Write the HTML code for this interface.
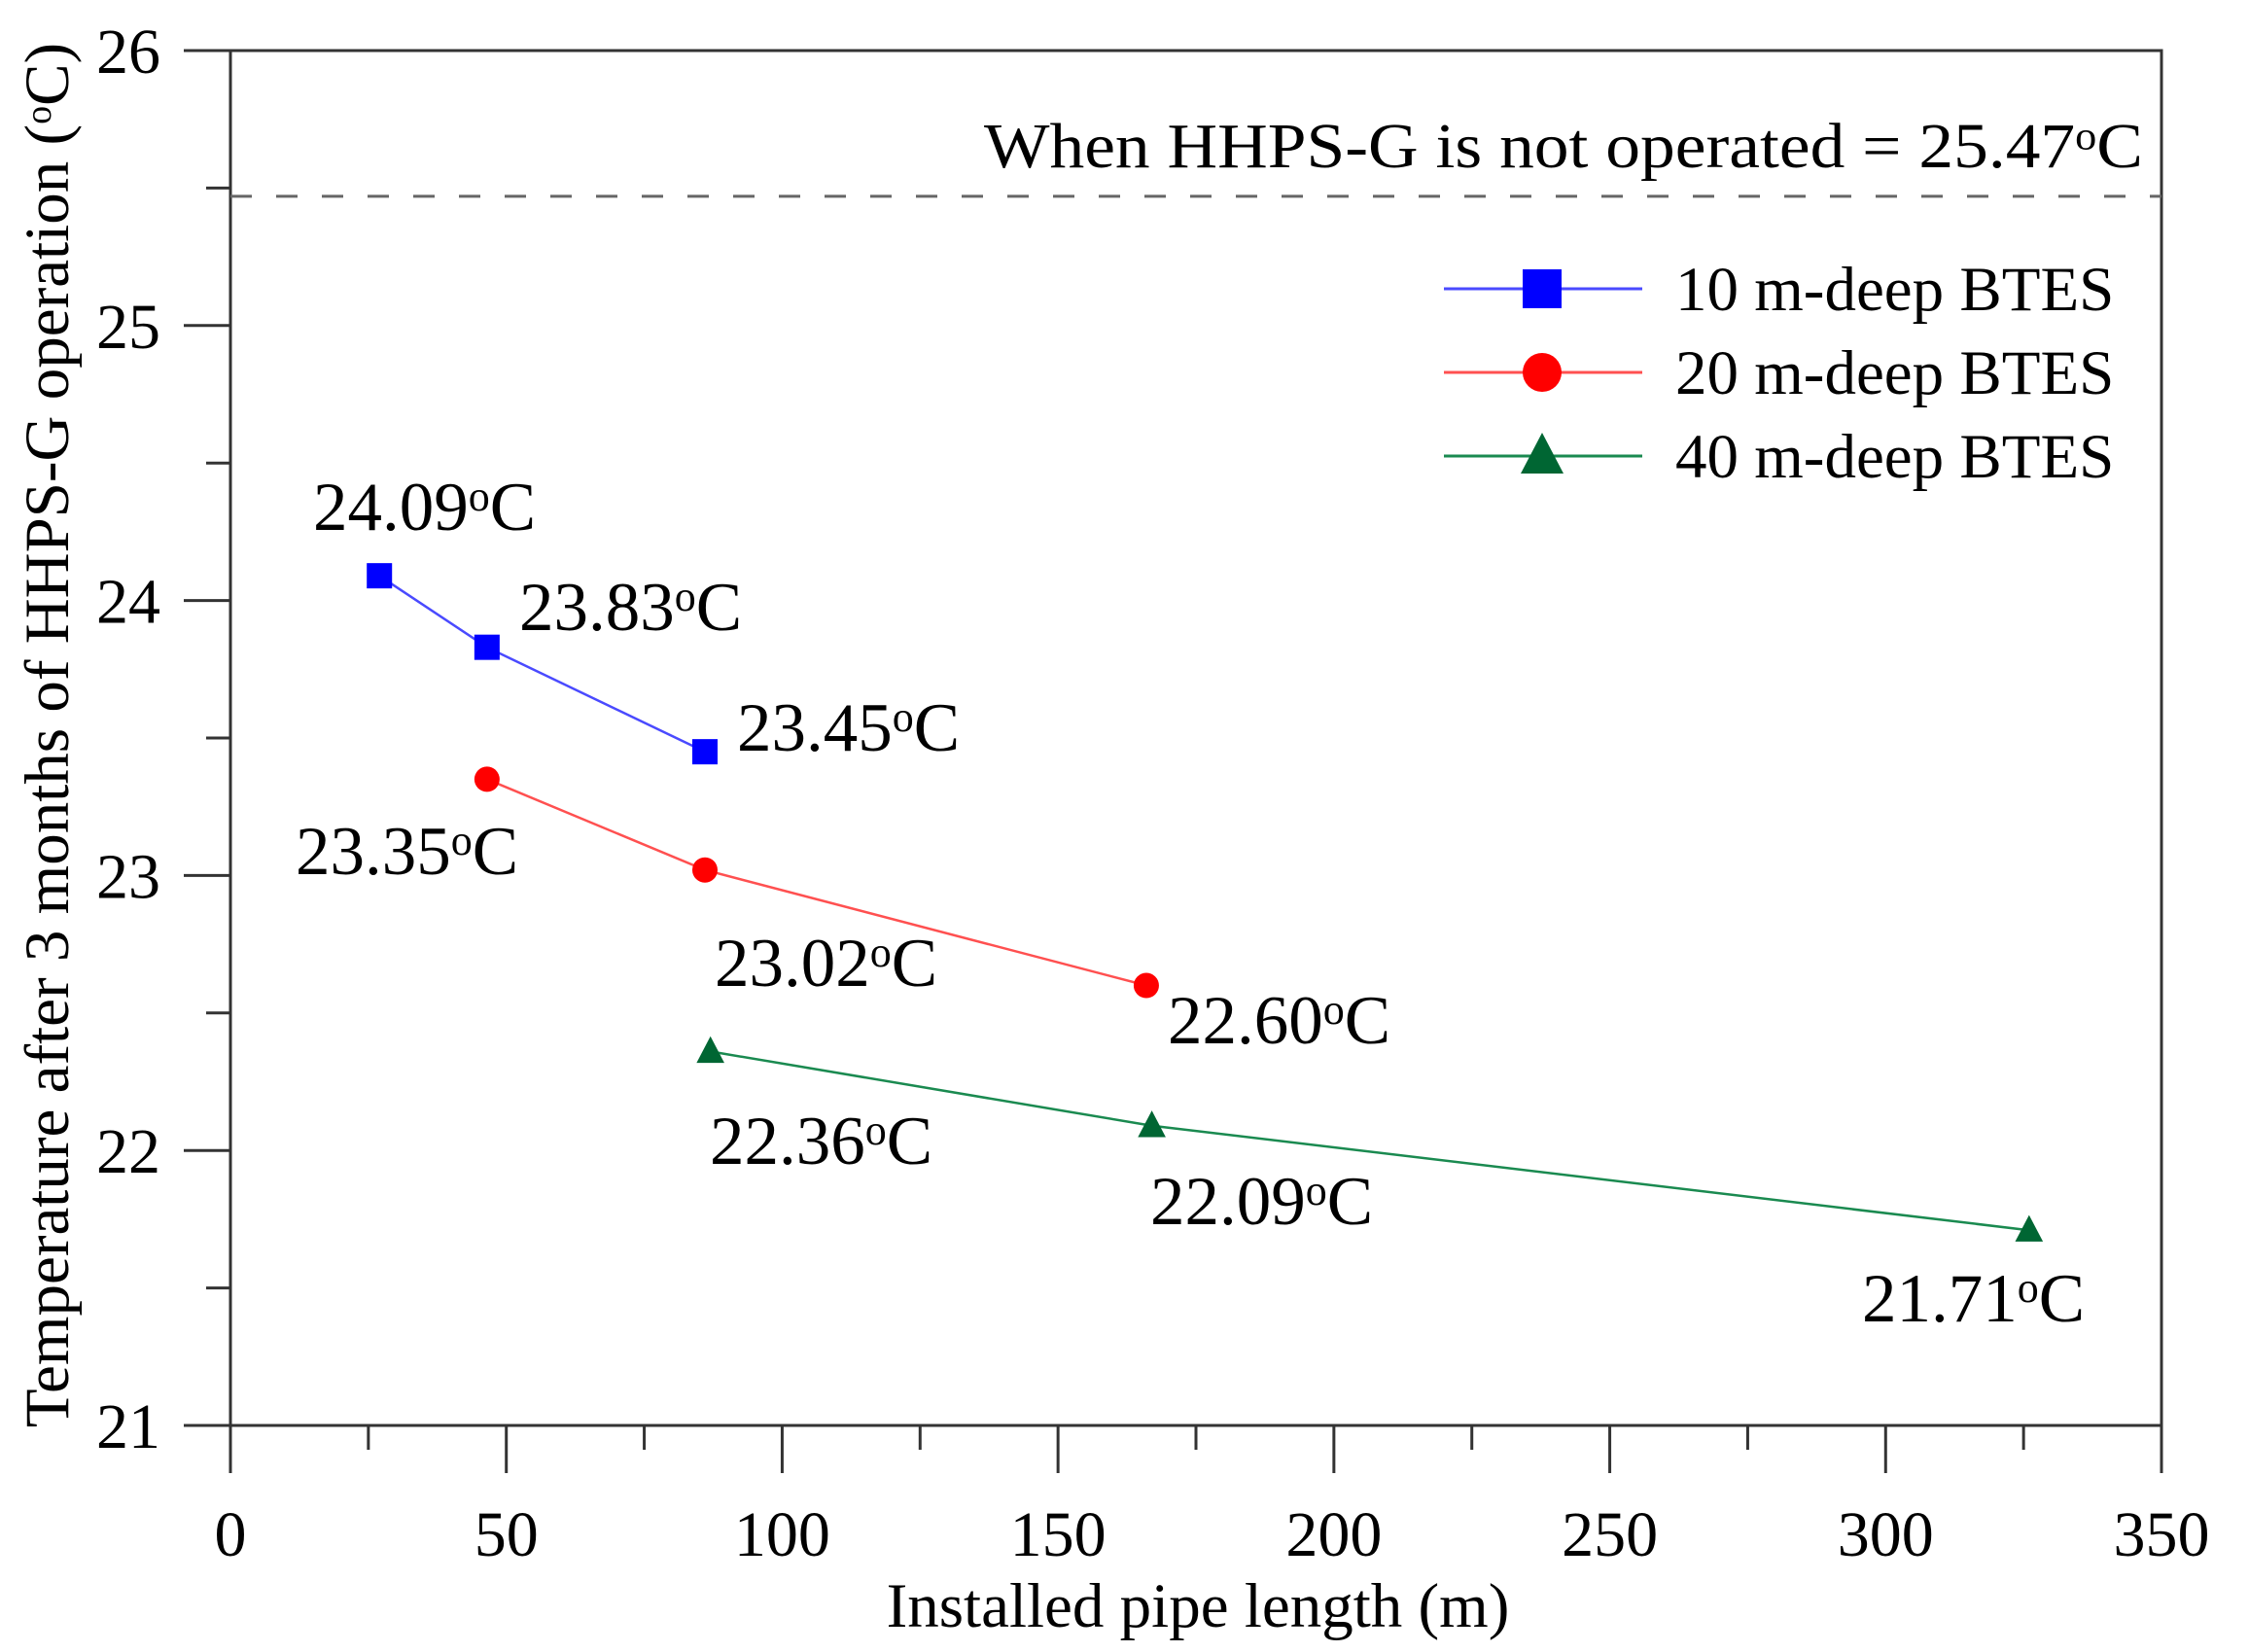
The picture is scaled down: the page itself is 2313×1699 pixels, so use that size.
<!DOCTYPE html>
<html><head><meta charset="utf-8"><style>
html,body{margin:0;padding:0;background:#fff;}
svg{display:block;font-family:"Liberation Serif",serif;}
</style></head><body>
<svg id="chart" width="2313" height="1699" viewBox="0 0 2313 1699" xmlns="http://www.w3.org/2000/svg">
<rect x="0" y="0" width="2313" height="1699" fill="#fff"/>
<g id="axes"></g>
<g id="series"></g>
<g id="labels"></g>
</svg>
<script>
const xTicks = [0, 50, 100, 150, 200, 250, 300, 350];
const yTicks = [21, 22, 23, 24, 25, 26];
const seriesNames = ["10 m-deep BTES", "20 m-deep BTES", "40 m-deep BTES"];
const x10 = [27, 46.5, 86];
const y10 = [24.09, 23.83, 23.45];
const x20 = [46.5, 86, 166];
const y20 = [23.35, 23.02, 22.60];
const x40 = [87, 167, 326];
const y40 = [22.36, 22.09, 21.71];
const refValue = 25.47;
const labelText10 = ["24.09", "23.83", "23.45"];
const labelText20 = ["23.35", "23.02", "22.60"];
const labelText40 = ["22.36", "22.09", "21.71"];

const NS = "http://www.w3.org/2000/svg";
const L = 237, R = 2223, T = 52, B = 1466;
const sx = v => L + (v - 0) / 350 * (R - L);
const sy = v => B - (v - 21) / 5 * (B - T);
function mk(tag, attrs, parent) {
  const e = document.createElementNS(NS, tag);
  for (const k in attrs) e.setAttribute(k, attrs[k]);
  parent.appendChild(e);
  return e;
}
const axes = document.getElementById('axes');
const ser = document.getElementById('series');
const lab = document.getElementById('labels');

const frame = mk('rect', {x: L, y: T, width: R - L, height: B - T, fill: 'none', stroke: '#333', 'stroke-width': 3}, axes);



xTicks.forEach((t, i) => {
  const x = sx(t);
  const tk = mk('line', {x1: x, x2: x, y1: B, y2: B + 49, stroke: '#333', 'stroke-width': 3}, axes);
  
  
  const tl = mk('text', {x: x, y: 1600, 'font-size': 66, 'text-anchor': 'middle', fill: '#000'}, axes);
  tl.textContent = t;
  
  
  if (i < xTicks.length - 1) {
    const xm = sx(t + 25);
    const mt = mk('line', {x1: xm, x2: xm, y1: B, y2: B + 25, stroke: '#333', 'stroke-width': 3}, axes);
    
    
  }
});
yTicks.forEach((t, i) => {
  const y = sy(t);
  const tk = mk('line', {x1: L - 48, x2: L, y1: y, y2: y, stroke: '#333', 'stroke-width': 3}, axes);
  
  
  const tl = mk('text', {x: 165, y: y + 23, 'font-size': 66, 'text-anchor': 'end', fill: '#000'}, axes);
  tl.textContent = t;
  
  
  if (i < yTicks.length - 1) {
    const ym = sy(t + 0.5);
    const mt = mk('line', {x1: L - 25, x2: L, y1: ym, y2: ym, stroke: '#333', 'stroke-width': 3}, axes);
    
    
  }
});

const ref = mk('line', {x1: L, x2: R, y1: sy(refValue), y2: sy(refValue), stroke: '#666', 'stroke-width': 3, 'stroke-dasharray': '22 25'}, axes);



function degText(parent, x, y, num, size, name, anchor, len) {
  const t = mk('text', {x: x, y: y, 'font-size': size, fill: '#000'}, parent);
  if (anchor) t.setAttribute('text-anchor', anchor);
  if (len) { t.setAttribute('textLength', len); t.setAttribute('lengthAdjust', 'spacingAndGlyphs'); }
  
  
  const a = document.createElementNS(NS, 'tspan'); a.textContent = num; t.appendChild(a);
  const o = document.createElementNS(NS, 'tspan'); o.textContent = 'o';
  o.setAttribute('font-size', size * 0.62); o.setAttribute('dy', -size * 0.28); t.appendChild(o);
  const c = document.createElementNS(NS, 'tspan'); c.textContent = 'C';
  c.setAttribute('dy', size * 0.28); t.appendChild(c);
  return t;
}
degText(axes, 1012, 172, 'When HHPS-G is not operated = 25.47', 66, 'reference-annotation', null, 1192);

const xt = mk('text', {x: 1232, y: 1673, 'font-size': 65, 'text-anchor': 'middle', fill: '#000'}, axes);
xt.textContent = 'Installed pipe length (m)';


const yt = mk('text', {x: 0, y: 0, 'font-size': 65, 'text-anchor': 'middle', fill: '#000', transform: 'translate(70,756) rotate(-90)'}, axes);


yt.appendChild(document.createTextNode('Temperature after 3 months of HHPS-G operation ('));
const yo = document.createElementNS(NS, 'tspan'); yo.textContent = 'o'; yo.setAttribute('font-size', 38); yo.setAttribute('dy', -18); yt.appendChild(yo);
const yc = document.createElementNS(NS, 'tspan'); yc.textContent = 'C)'; yc.setAttribute('dy', 18); yt.appendChild(yc);

function marker(parent, kind, x, y, s, color, name) {
  let e;
  if (kind === 'square') e = mk('rect', {x: x - s / 2, y: y - s / 2, width: s, height: s, fill: color}, parent);
  else if (kind === 'circle') e = mk('circle', {cx: x, cy: y, r: s / 2, fill: color}, parent);
  else e = mk('polygon', {points: `${x},${y - s * 0.6} ${x - s * 0.55},${y + s * 0.45} ${x + s * 0.55},${y + s * 0.45}`, fill: color}, parent);
  
  
}
const cfg = [
  {xs: x10, ys: y10, line: '#4a4aff', mcol: '#0000ff', kind: 'square', labels: labelText10, key: '10m'},
  {xs: x20, ys: y20, line: '#ff5050', mcol: '#ff0000', kind: 'circle', labels: labelText20, key: '20m'},
  {xs: x40, ys: y40, line: '#1a8a50', mcol: '#006633', kind: 'triangle', labels: labelText40, key: '40m'}
];
const labelPos = [
  [[322, 545], [534, 648], [758, 772]],
  [[304, 899], [735, 1014], [1201, 1073]],
  [[730, 1197], [1183, 1259], [1915, 1359]]
];
cfg.forEach((c, si) => {
  const pts = c.xs.map((v, i) => sx(v) + ',' + sy(c.ys[i])).join(' ');
  const pl = mk('polyline', {points: pts, fill: 'none', stroke: c.line, 'stroke-width': 2.5}, ser);
  
  
  c.xs.forEach((v, i) => {
    marker(ser, c.kind, sx(v), sy(c.ys[i]), 26, c.mcol, 'point-' + c.key);
    degText(lab, labelPos[si][i][0], labelPos[si][i][1], c.labels[i], 71, 'value-label-' + c.key);
  });
  const ly = [297, 383, 469][si];
  const ll = mk('line', {x1: 1485, x2: 1689, y1: ly, y2: ly, stroke: c.line, 'stroke-width': 3}, lab);
  
  
  marker(lab, c.kind, 1586, ly, 40, c.mcol, 'legend-marker-' + c.key);
  const lt = mk('text', {x: 1723, y: ly + 22, 'font-size': 65, fill: '#000'}, lab);
  lt.textContent = seriesNames[si];
  
  
});
</script>
</body></html>
